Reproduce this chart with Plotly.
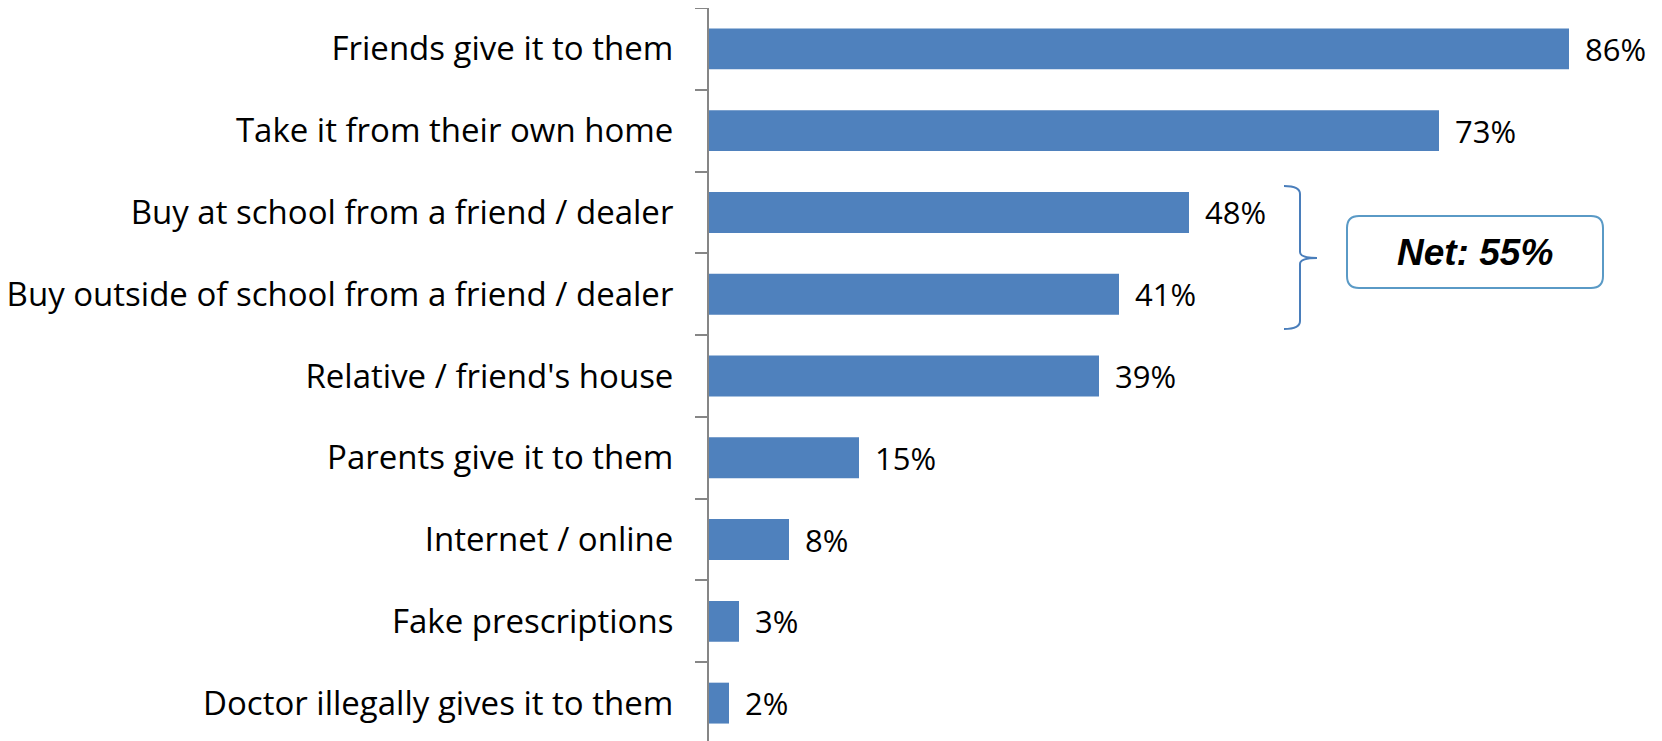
import plotly.graph_objects as go

categories = [
    "Friends give it to them",
    "Take it from their own home",
    "Buy at school from a friend / dealer",
    "Buy outside of school from a friend / dealer",
    "Relative / friend's house",
    "Parents give it to them",
    "Internet / online",
    "Fake prescriptions",
    "Doctor illegally gives it to them",
]
values = [86, 73, 48, 41, 39, 15, 8, 3, 2]
value_labels = [f"{v}%" for v in values]
net_label = "Net: 55%"

BAR = "#4F81BD"
W, H = 1662, 741
OFF = 8                      # default page body margin
AX = 709                     # page x of the value axis
TOP = 8                      # page y of plot top
PH = 736                     # plot height (9 categories)
ML, MT = AX - OFF, TOP - OFF
MR = 10
MB = H - MT - PH
PW = W - ML - MR
PX_PER_PCT = 10.0
XMAX = PW / PX_PER_PCT
FONT = "Open Sans"

fig = go.Figure(go.Bar(
    y=categories, x=values, orientation="h",
    marker=dict(color=BAR, line=dict(width=0)),
    width=0.5, hoverinfo="skip",
))

for c, v, t in zip(categories, values, value_labels):
    fig.add_annotation(x=v, y=c, text=t, showarrow=False, xanchor="left",
                       xshift=14, font=dict(family=FONT, size=31, color="#000000"))

# page-pixel -> paper coords
def px(x):
    return (x - AX) / PW

def py(y):
    return 1 - (y - TOP) / PH

# bracket for the "Buy" categories
top, bot, mid = 186, 329, 258
xv, xh0, xt = 1300, 1284, 1317
path = (f"M {px(xh0)},{py(top)} Q {px(xv)},{py(top)} {px(xv)},{py(top+8)} "
        f"L {px(xv)},{py(mid-6)} Q {px(xv)},{py(mid)} {px(xt)},{py(mid)} "
        f"Q {px(xv)},{py(mid)} {px(xv)},{py(mid+6)} "
        f"L {px(xv)},{py(bot-8)} Q {px(xv)},{py(bot)} {px(xh0)},{py(bot)}")
fig.add_shape(type="path", path=path, xref="paper", yref="paper",
              line=dict(color="#4A7EBB", width=2))

# rounded box
bx0, bx1, by0, by1, r = 1347, 1603, 216, 288, 12
rx = r / PW
ry = r / PH
X0, X1, Y0, Y1 = px(bx0), px(bx1), py(by1), py(by0)
box = (f"M {X0+rx},{Y1} L {X1-rx},{Y1} Q {X1},{Y1} {X1},{Y1-ry} "
       f"L {X1},{Y0+ry} Q {X1},{Y0} {X1-rx},{Y0} L {X0+rx},{Y0} "
       f"Q {X0},{Y0} {X0},{Y0+ry} L {X0},{Y1-ry} Q {X0},{Y1} {X0+rx},{Y1} Z")
fig.add_shape(type="path", path=box, xref="paper", yref="paper",
              line=dict(color="#5A9AC6", width=2), fillcolor="white", layer="below")
fig.add_annotation(x=(X0 + X1) / 2, y=(Y0 + Y1) / 2, xref="paper", yref="paper",
                   xanchor="center", yanchor="middle",
                   text=f"<b><i>{net_label}</i></b>", showarrow=False,
                   font=dict(family="Liberation Sans", size=37, color="#000000"))

fig.update_layout(
    width=W, height=H,
    margin=dict(l=ML, r=MR, t=MT, b=MB, autoexpand=False),
    plot_bgcolor="white", paper_bgcolor="white",
    showlegend=False,
    bargap=0.5,
    xaxis=dict(range=[0, XMAX], visible=False, fixedrange=True, automargin=False),
    yaxis=dict(
        type="category", categoryorder="array", categoryarray=categories,
        range=[8.5, -0.5], automargin=False,
        showline=True, linecolor="#868686", linewidth=2,
        ticks="outside", tickson="boundaries", ticklen=12, tickcolor="#868686", tickwidth=2,
        tickfont=dict(family=FONT, size=33, color="#000000"),
        ticklabelstandoff=27,
        showgrid=False, zeroline=False, fixedrange=True,
    ),
)

fig.write_html("out.html")
